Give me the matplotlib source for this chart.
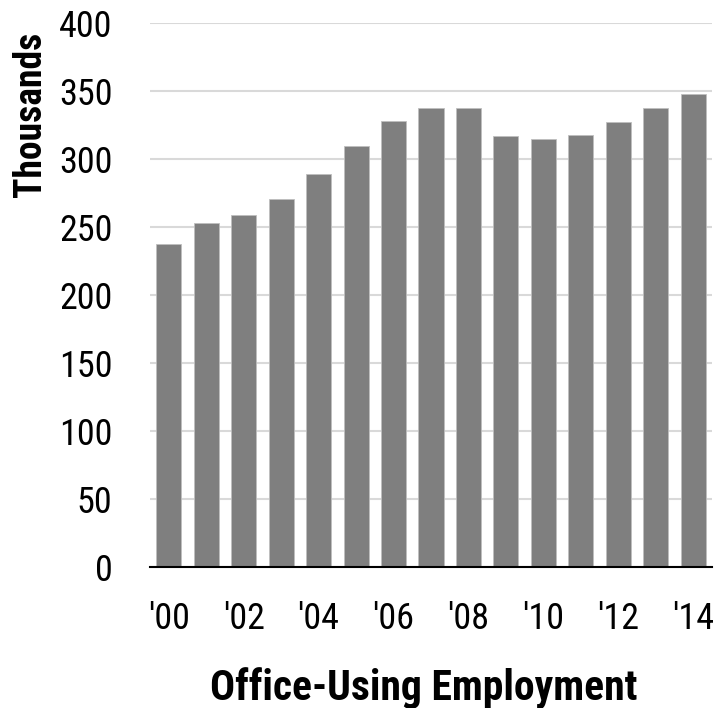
import numpy as np
import matplotlib
matplotlib.use("Agg")
import matplotlib.pyplot as plt
from matplotlib import font_manager

# data (thousands)
years = list(range(2000, 2015))
employment = [237.5, 253.5, 259, 271, 289.5, 310, 328.5, 338, 337.5, 317, 315, 318, 327.5, 338, 348]
tick_years = years[::2]
tick_labels = ["'%02d" % (y % 100) for y in tick_years]

# pick a narrow font if one is around
names = set(f.name for f in font_manager.fontManager.ttflist)
fam = "DejaVu Sans"
for cand in ["Roboto Condensed", "Liberation Sans Narrow", "Arial Narrow", "Roboto"]:
    if cand in names:
        fam = cand
        break
plt.rcParams['font.family'] = [fam, 'DejaVu Sans']

fig = plt.figure(figsize=(7.16, 7.08), dpi=100)
ax = fig.add_axes([0.2095, 0.1987, 0.7849, 0.7683])

ax.bar(years, employment, width=0.67, color='#7f7f7f', edgecolor='#bfbfbf', linewidth=0.6, zorder=3)

ax.set_ylim(0, 400)
ax.set_xlim(years[0] - 0.5, years[-1] + 0.5)
ax.set_yticks(np.arange(0, 401, 50))
ax.set_xticks(tick_years)
ax.set_xticklabels(tick_labels)
ax.tick_params(axis='both', length=0, labelsize=26, colors='black')
ax.tick_params(axis='y', pad=27)
ax.tick_params(axis='x', pad=24)

ax.grid(axis='y', color='#d9d9d9', linewidth=1.5, zorder=0)
for s in ['top', 'right', 'left']:
    ax.spines[s].set_visible(False)
ax.spines['bottom'].set_linewidth(1.5)
ax.spines['bottom'].set_zorder(4)

fig.text(0.043, 0.955, 'Thousands', rotation=90, ha='center', va='top', fontsize=27, fontweight='bold')
fig.text(0.592, 0.012, 'Office-Using Employment', ha='center', va='baseline', fontsize=30, fontweight='bold')

fig.savefig('out.png', dpi=100)
